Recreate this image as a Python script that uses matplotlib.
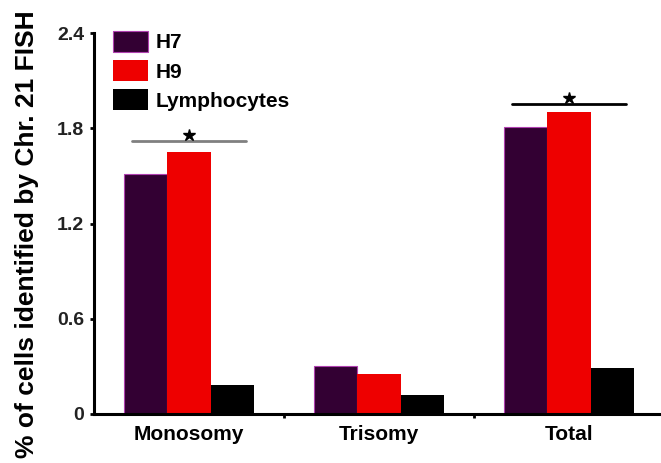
import numpy as np
import matplotlib
matplotlib.use("Agg")
import matplotlib.pyplot as plt

plt.rcParams['font.family'] = ['Liberation Sans', 'DejaVu Sans']
plt.rcParams['font.weight'] = 'bold'

# data
categories = ['Monosomy', 'Trisomy', 'Total']
h7 = [1.51, 0.30, 1.81]
h9 = [1.65, 0.25, 1.90]
lymph = [0.18, 0.12, 0.29]
sig_height = [1.72, None, 1.955]
sig_color = ['#808080', None, 'black']

W, H = 661, 463
fig = plt.figure(figsize=(W / 100, H / 100), dpi=100)

# axes placed in pixel terms: left spine x=94, zero at y=414, 2.4 at y=33
left, right = 94, 664
bottom, top = 414, 33
ax = fig.add_axes([left / W, 1 - bottom / H, (right - left) / W, (bottom - top) / H])

x = np.arange(len(categories))
w = 0.227
ax.bar(x - w, h7, w, color='#330033', edgecolor='#b040b0', linewidth=0.8, label='H7')
ax.bar(x, h9, w, color='#ee0000', linewidth=0, label='H9')
ax.bar(x + w, lymph, w, color='black', linewidth=0, label='Lymphocytes')

# significance bars
for i, (hgt, col) in enumerate(zip(sig_height, sig_color)):
    if hgt is None:
        continue
    ax.plot([i - 0.3, i + 0.3], [hgt, hgt], color=col, lw=2, solid_capstyle='round')
    ax.plot(i, hgt + 0.035, marker='*', color='black', markersize=9)

ax.set_xlim(-0.5, 2.5)
ax.set_ylim(0, 2.4)
ax.set_yticks([0, 0.6, 1.2, 1.8, 2.4])
ax.set_yticklabels(['0', '0.6', '1.2', '1.8', '2.4'], fontsize=14, color='#222222')
ax.set_xticks(x)
ax.set_xticklabels(categories, fontsize=15)
ax.set_xticks([0.5, 1.5], minor=True)
ax.tick_params(axis='x', which='major', length=0, pad=8)
ax.tick_params(axis='x', which='minor', length=3, width=2, direction='out')
ax.tick_params(axis='y', length=3, width=2, pad=4)

for s in ['top', 'right']:
    ax.spines[s].set_visible(False)
for s in ['left', 'bottom']:
    ax.spines[s].set_linewidth(2.2)

fig.text(27 / W, 1 - 234 / H, '% of cells identified by Chr. 21 FISH',
         rotation=90, ha='center', va='center', fontsize=19, fontweight='bold')

ax.legend(loc='upper left', bbox_to_anchor=(113 / W, 1 - 31 / H),
          bbox_transform=fig.transFigure, frameon=False, fontsize=15,
          handlelength=1.7, handleheight=1.15, labelspacing=0.37,
          handletextpad=0.35, borderpad=0, borderaxespad=0)

fig.savefig('out.png', dpi=100)
